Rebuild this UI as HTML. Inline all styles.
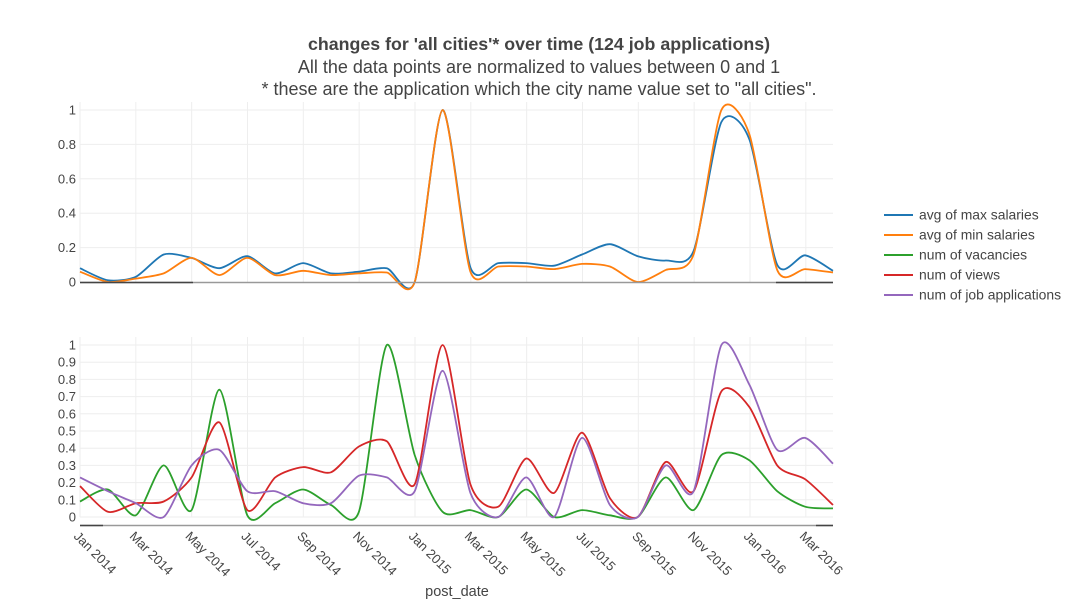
<!DOCTYPE html>
<html><head><meta charset="utf-8">
<style>
html,body{margin:0;padding:0;background:#fff;}
svg{display:block;font-family:"Liberation Sans","DejaVu Sans",sans-serif;}
</style></head>
<body>
<svg id="chart" width="1077" height="605" viewBox="0 0 1077 605">
  <g id="grid"></g>
  <g id="series"></g>
  <g id="axes"></g>
  <text x="539" y="50" text-anchor="middle" font-size="17.8" font-weight="bold" fill="#444">changes for 'all cities'* over time (124 job applications)</text>
  <text x="539" y="73" text-anchor="middle" font-size="18" fill="#444">All the data points are normalized to values between 0 and 1</text>
  <text x="539" y="95" text-anchor="middle" font-size="18" fill="#444">* these are the application which the city name value set to "all cities".</text>
  <text x="457" y="596" text-anchor="middle" font-size="14.5" fill="#444">post_date</text>
  <g id="legend"></g>
</svg>
<script>
const xTickLabels = ["Jan 2014","Mar 2014","May 2014","Jul 2014","Sep 2014","Nov 2014","Jan 2015","Mar 2015","May 2015","Jul 2015","Sep 2015","Nov 2015","Jan 2016","Mar 2016"];
const seriesNames = ["avg of max salaries","avg of min salaries","num of vacancies","num of views","num of job applications"];
const maxSalaries = [0.08,0.01,0.03,0.16,0.14,0.08,0.15,0.05,0.11,0.05,0.06,0.08,0.0,1.0,0.085,0.11,0.11,0.095,0.16,0.22,0.15,0.125,0.18,0.93,0.83,0.10,0.155,0.065];
const minSalaries = [0.06,0.0,0.02,0.05,0.14,0.04,0.14,0.04,0.065,0.04,0.05,0.055,0.0,1.0,0.06,0.09,0.09,0.075,0.105,0.09,0.0,0.07,0.16,1.0,0.86,0.07,0.075,0.055];
const vacancies = [0.09,0.16,0.01,0.30,0.04,0.74,0.01,0.08,0.16,0.07,0.03,1.0,0.36,0.03,0.04,0.0,0.16,0.0,0.04,0.01,0.0,0.23,0.04,0.36,0.33,0.15,0.06,0.05];
const views = [0.18,0.03,0.08,0.09,0.23,0.55,0.04,0.23,0.29,0.26,0.41,0.44,0.19,1.0,0.19,0.06,0.34,0.14,0.49,0.11,0.0,0.32,0.15,0.73,0.64,0.30,0.22,0.07];
const applications = [0.23,0.15,0.08,0.0,0.30,0.39,0.15,0.15,0.08,0.08,0.24,0.23,0.15,0.85,0.14,0.0,0.23,0.0,0.46,0.07,0.0,0.30,0.15,1.0,0.77,0.39,0.46,0.31];
const topTicks = [0,0.2,0.4,0.6,0.8,1];
const bottomTicks = [0,0.1,0.2,0.3,0.4,0.5,0.6,0.7,0.8,0.9,1];

const NS="http://www.w3.org/2000/svg";
const colors=["#1f77b4","#ff7f0e","#2ca02c","#d62728","#9467bd"];
const X0=80,X1=833;
const nPts=maxSalaries.length;
function xIdx(i){return X0+i*(X1-X0)/(nPts-1);}
function yTop(v){return 282-v*172;}
function yBot(v){return 517-v*172;}
function mk(tag,attrs,parent){const e=document.createElementNS(NS,tag);for(const k in attrs)e.setAttribute(k,attrs[k]);parent.appendChild(e);return e;}
const grid=document.getElementById('grid'),axes=document.getElementById('axes'),ser=document.getElementById('series'),leg=document.getElementById('legend');

xTickLabels.forEach((lab,k)=>{
  const gx=X0+k*(750-80)/12;
  [[110,282],[345,517]].forEach(r=>{
    const l=mk('line',{x1:gx,x2:gx,y1:r[0]-8,y2:r[1],stroke:'#eee','stroke-width':1},grid);
    
    
  });
  const t=mk('text',{x:gx-7,y:537,'font-size':13,fill:'#444',transform:`rotate(45 ${gx-7} 537)`},axes);
  t.textContent=lab;
  
  
});
topTicks.forEach(v=>{
  const y=yTop(v);
  if(v>0){const l=mk('line',{x1:X0,x2:X1,y1:y,y2:y,stroke:'#eee'},grid);
  
  }
  const t=mk('text',{x:76,y:y+4.5,'text-anchor':'end','font-size':13,fill:'#444'},axes);
  t.textContent=String(v);
  
  
});
bottomTicks.forEach(v=>{
  const y=yBot(v);
  const l=mk('line',{x1:X0,x2:X1,y1:y,y2:y,stroke:'#eee'},grid);
  
  
  const t=mk('text',{x:76,y:y+4.5,'text-anchor':'end','font-size':13,fill:'#444'},axes);
  t.textContent=String(v);
  
  
});
let z=mk('line',{x1:X0,x2:X1,y1:282.5,y2:282.5,stroke:'#999','stroke-width':1.5},axes);


z=mk('line',{x1:X0,x2:193,y1:282.5,y2:282.5,stroke:'#444','stroke-width':1.5},axes);


z=mk('line',{x1:776,x2:X1,y1:282.5,y2:282.5,stroke:'#444','stroke-width':1.5},axes);


z=mk('line',{x1:X0,x2:X1,y1:525.5,y2:525.5,stroke:'#999','stroke-width':1.5},axes);


z=mk('line',{x1:X0,x2:103,y1:525.5,y2:525.5,stroke:'#444','stroke-width':1.5},axes);


z=mk('line',{x1:816,x2:X1,y1:525.5,y2:525.5,stroke:'#444','stroke-width':1.5},axes);



function spline(vals,yf){
  const p=vals.map((v,i)=>[xIdx(i),yf(v)]);
  let d=`M${p[0][0]},${p[0][1]}`;
  const t=0.38;
  for(let i=0;i<p.length-1;i++){
    const p0=p[i-1]||p[i],p1=p[i],p2=p[i+1],p3=p[i+2]||p[i+1];
    const c1=[p1[0]+(p2[0]-p0[0])*t/3,p1[1]+(p2[1]-p0[1])*t/3];
    const c2=[p2[0]-(p3[0]-p1[0])*t/3,p2[1]-(p3[1]-p1[1])*t/3];
    d+=` C${c1[0].toFixed(1)},${c1[1].toFixed(1)} ${c2[0].toFixed(1)},${c2[1].toFixed(1)} ${p2[0].toFixed(1)},${p2[1].toFixed(1)}`;
  }
  return d;
}
const all=[[maxSalaries,yTop],[minSalaries,yTop],[vacancies,yBot],[views,yBot],[applications,yBot]];
const lineNames=['max-salaries-line','min-salaries-line','vacancies-line','views-line','applications-line'];
all.forEach((s,k)=>{
  const p=mk('path',{d:spline(s[0],s[1]),fill:'none',stroke:colors[k],'stroke-width':1.8},ser);
  
  
});
seriesNames.forEach((n,k)=>{
  const y=215+k*20;
  const g=mk('g',{},leg);
  
  
  mk('line',{x1:884,x2:913,y1:y,y2:y,stroke:colors[k],'stroke-width':2},g);
  const t=mk('text',{x:919,y:y+4.5,'font-size':13.9,fill:'#444'},g);
  t.textContent=n;
});
</script>
</body></html>
